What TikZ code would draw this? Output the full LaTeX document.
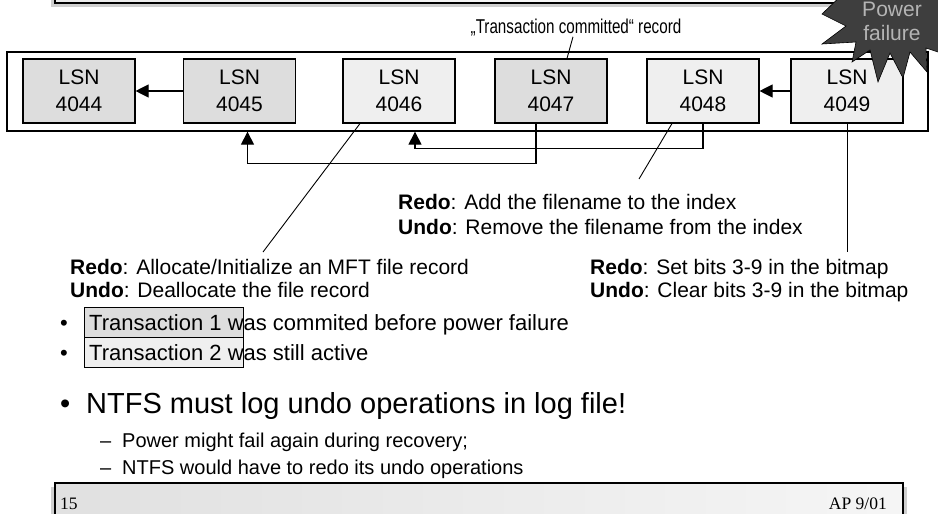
\documentclass[tikz,border=0pt]{standalone}
\usepackage{fontspec}
\setmainfont{Liberation Sans}
\newfontfamily\footfont{Liberation Serif}
\usepackage{tikz}
\usetikzlibrary{arrows.meta,positioning}

\definecolor{boxdark}{HTML}{DDDDDD}
\definecolor{boxlight}{HTML}{EFEFEF}
\definecolor{stargrey}{HTML}{3E3E3E}
\definecolor{startext}{HTML}{B4B4B4}
\definecolor{shadowgrey}{HTML}{CFCFCF}

\newcommand{\lsntext}[1]{LSN\\#1}

\begin{document}
\begin{tikzpicture}[x=1pt,y=-1pt,
    lsn/.style={draw,line width=1.1pt,minimum width=112pt,minimum height=64pt,inner sep=0pt,align=center,font=\fontsize{21}{27}\selectfont},
    lsndark/.style={lsn,fill=boxdark},
    lsnlight/.style={lsn,fill=boxlight},
    link/.style={line width=1.1pt,-{Triangle[length=13pt,width=13pt]}},
    callout/.style={line width=0.9pt},
    note/.style={anchor=north west,inner sep=0pt,align=left},
    bline/.style={anchor=base west,inner sep=0pt},
    txbox/.style={draw,line width=1pt,minimum width=159pt,minimum height=30pt,inner sep=0pt}]
      \useasboundingbox (0,0) rectangle (938,514);
      % slide header and footer bars
      \fill[shadowgrey] (51,-20) rectangle (907,7);
      \draw[line width=1.3pt,left color=boxdark!60,right color=white] (55,-20) rectangle (903,3);
      \fill[shadowgrey] (51,487) rectangle (907,530);
      \draw[line width=1.3pt,left color=boxdark!90,right color=boxlight!60] (55,483) rectangle (903,530);
      \node[bline,font=\footfont\fontsize{17.5}{20}\selectfont] (pagenum) at (60,509) {15};
      \node[anchor=base east,inner sep=0pt,font=\footfont\fontsize{17.5}{20}\selectfont] (footdate) at (887,509) {AP 9/01};

      % the log file
      \node[draw,line width=1.3pt,fill=white,minimum width=921pt,minimum height=79pt,inner sep=0pt] (logbox) at (467.5,91.5) {};
      \node[lsndark] (l4044) at (79,91) {\lsntext{4044}};
      \node[lsndark] (l4045) at (239.5,91) {\lsntext{4045}};
      \node[lsnlight] (l4046) at (399,91) {\lsntext{4046}};
      \node[lsndark] (l4047) at (551,91) {\lsntext{4047}};
      \node[lsnlight] (l4048) at (703,91) {\lsntext{4048}};
      \node[lsnlight] (l4049) at (847,91) {\lsntext{4049}};
      \draw[link] (l4045) -- (l4044);
      \draw[link] (l4049) -- (l4048);
      \draw[link] ([xshift=-15pt]l4047.south) -- ++(0,40) -| ([xshift=8pt]l4045.south |- logbox.south);
      \draw[link] (l4048.south) -- ++(0,25) -| ([xshift=16pt]l4046.south |- logbox.south);

      % notes
      \node[anchor=base,inner sep=0pt,font=\fontsize{20}{22}\selectfont] (commit) at (576,34) {\scalebox{0.76}[1]{„Transaction committed“ record}};
      \draw[callout] ([xshift=-3pt]commit.south) -- ([xshift=16pt]l4047.north);
      \node[note,font=\fontsize{21}{25}\selectfont] (idxnote) at (398,194) {\textbf{Redo}: Add the filename to the index\\\textbf{Undo}: Remove the filename from the index};
      \node[note,font=\fontsize{21}{23}\selectfont] (mftnote) at (70,259) {\textbf{Redo}: Allocate/Initialize an MFT file record\\\textbf{Undo}: Deallocate the file record};
      \node[note,font=\fontsize{21}{23}\selectfont] (bmpnote) at (590,259) {\textbf{Redo}: Set bits 3-9 in the bitmap\\\textbf{Undo}: Clear bits 3-9 in the bitmap};
      \coordinate (idxend) at (639,179);
      \coordinate (mftend) at (263,252);
      \coordinate (bmpend) at (847,252);
      \draw[callout] ([xshift=-31pt]l4048.south) -- (idxend);
      \draw[callout] ([xshift=-39pt]l4046.south) -- (mftend);
      \draw[callout] (l4049.south) -- (bmpend);

      % bullets
      \node[txbox,fill=boxdark] (tx1) at (163.5,322) {};
      \node[txbox,fill=boxlight] (tx2) at (163.5,352) {};
      \node[bline,font=\fontsize{22}{28}\selectfont] (b1) at (60,330) {\makebox[29pt][l]{\textbullet}Transaction 1 was commited before power failure};
      \node[bline,font=\fontsize{22}{28}\selectfont] (b2) at (60,360) {\makebox[29pt][l]{\textbullet}Transaction 2 was still active};
      \node[bline,font=\fontsize{29}{34}\selectfont] (b3) at (60,413) {\makebox[26pt][l]{\textbullet}NTFS must log undo operations in log file!};
      \node[bline,font=\fontsize{20}{24}\selectfont] (s1) at (100,447) {\makebox[22pt][l]{–}Power might fail again during recovery;};
      \node[bline,font=\fontsize{20}{24}\selectfont] (s2) at (100,474) {\makebox[22pt][l]{–}NTFS would have to redo its undo operations};

      % power failure
      \filldraw[fill=stargrey,draw=black,line width=0.6pt] (845,-8) -- (822,14) -- (846,26) -- (822,44) -- (856,42) -- (852,62) -- (870,50) -- (878,82) -- (890,53) -- (903,78) -- (910,52) -- (927,72) -- (926,48) -- (950,56) -- (950,-8) -- cycle;
      \node[anchor=north,inner sep=0pt,align=center,text=startext,font=\fontsize{21}{24}\selectfont] (power) at (892,2) {Power\\failure};
    \end{tikzpicture}
\end{document}
